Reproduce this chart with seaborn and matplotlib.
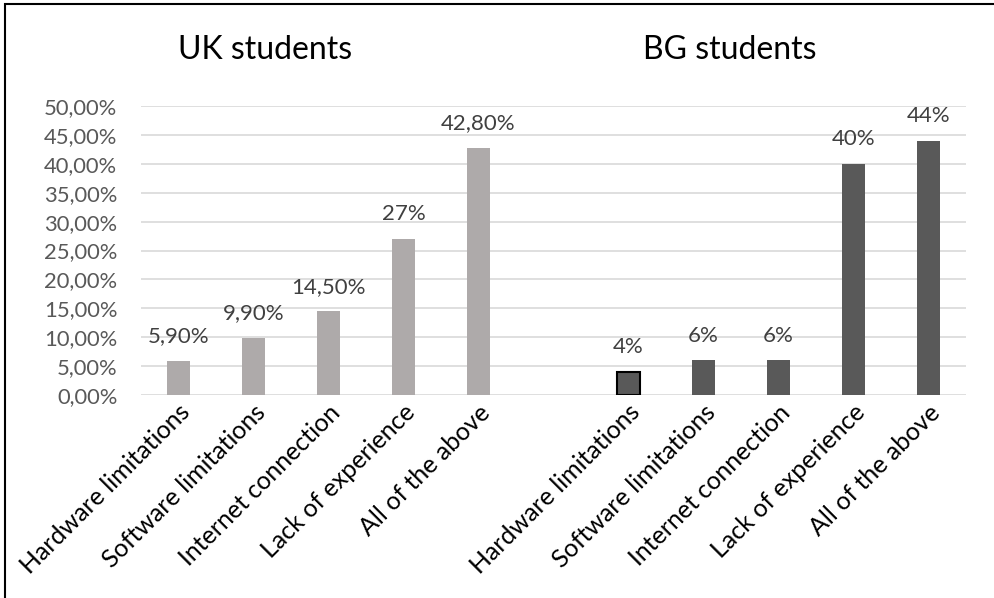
import matplotlib
matplotlib.use("Agg")
import matplotlib.pyplot as plt
import seaborn as sns
import pandas as pd
from matplotlib.patches import Rectangle

sns.set_theme(style="white")
plt.rcParams["font.family"] = ["Lato", "DejaVu Sans"]

categories = ["Hardware limitations", "Software limitations", "Internet connection",
              "Lack of experience", "All of the above"]
uk_values = [5.9, 9.9, 14.5, 27.0, 42.8]
bg_values = [4.0, 6.0, 6.0, 40.0, 44.0]
uk_labels = ["5,90%", "9,90%", "14,50%", "27%", "42,80%"]
bg_labels = ["4%", "6%", "6%", "40%", "44%"]
y_ticks = [0, 5, 10, 15, 20, 25, 30, 35, 40, 45, 50]
y_tick_labels = ["0,00%", "5,00%", "10,00%", "15,00%", "20,00%", "25,00%",
                 "30,00%", "35,00%", "40,00%", "45,00%", "50,00%"]

uk_color = "#AEAAAA"
bg_color = "#595959"

# one slot per bar, with an empty slot separating the two groups
slots = [f"uk{i}" for i in range(5)] + ["gap"] + [f"bg{i}" for i in range(5)]
df = pd.DataFrame({
    "slot": slots,
    "value": uk_values + [0.0] + bg_values,
    "group": ["UK"] * 5 + ["gap"] + ["BG"] * 5,
})

fig = plt.figure(figsize=(9.94, 5.98), dpi=100)
ax = fig.add_axes([141 / 994, 1 - 395 / 598, 825 / 994, 289 / 598])

sns.barplot(data=df, x="slot", y="value", hue="group", order=slots,
            palette={"UK": uk_color, "gap": "white", "BG": bg_color},
            width=0.31, dodge=False, legend=False, ax=ax, linewidth=0, saturation=1)

ax.set_ylim(0, 50)
ax.set_xlim(-0.5, 10.5)
ax.set_yticks(y_ticks)
ax.set_yticklabels(y_tick_labels, color="#595959", fontsize=15.8)
ax.yaxis.grid(True, color="#D9D9D9", linewidth=1.2)
ax.set_axisbelow(True)
for s in ax.spines.values():
    s.set_visible(False)
ax.tick_params(axis="y", length=0, pad=17)
ax.tick_params(axis="x", length=0, pad=4)
ax.set_xlabel("")
ax.set_ylabel("")

ax.set_xticks(list(range(5)) + list(range(6, 11)))
ax.set_xticklabels(categories + categories, rotation=45, ha="right",
                   rotation_mode="anchor", fontsize=18, color="black")

# outline on the first BG bar
for p in ax.patches:
    x = p.get_x() + p.get_width() / 2
    if abs(x - 6) < 0.01 and p.get_height() > 0:
        p.set_edgecolor("black")
        p.set_linewidth(1.5)

# value labels
for i, (v, t) in enumerate(zip(uk_values, uk_labels)):
    ax.text(i, v + 2.5, t, ha="center", va="bottom", fontsize=16, color="#404040")
for i, (v, t) in enumerate(zip(bg_values, bg_labels)):
    ax.text(i + 6, v + 2.5, t, ha="center", va="bottom", fontsize=16, color="#404040")

fig.text(265 / 994, 1 - 50 / 598, "UK students", ha="center", va="center", fontsize=23, color="black")
fig.text(730 / 994, 1 - 50 / 598, "BG students", ha="center", va="center", fontsize=23, color="black")

# chart frame
fig.patches.append(Rectangle((5 / 994, -0.1), 1.2, 1.1 - 4.5 / 598, transform=fig.transFigure,
                             fill=False, edgecolor="black", linewidth=1.5))

fig.savefig("out.png", dpi=100)
